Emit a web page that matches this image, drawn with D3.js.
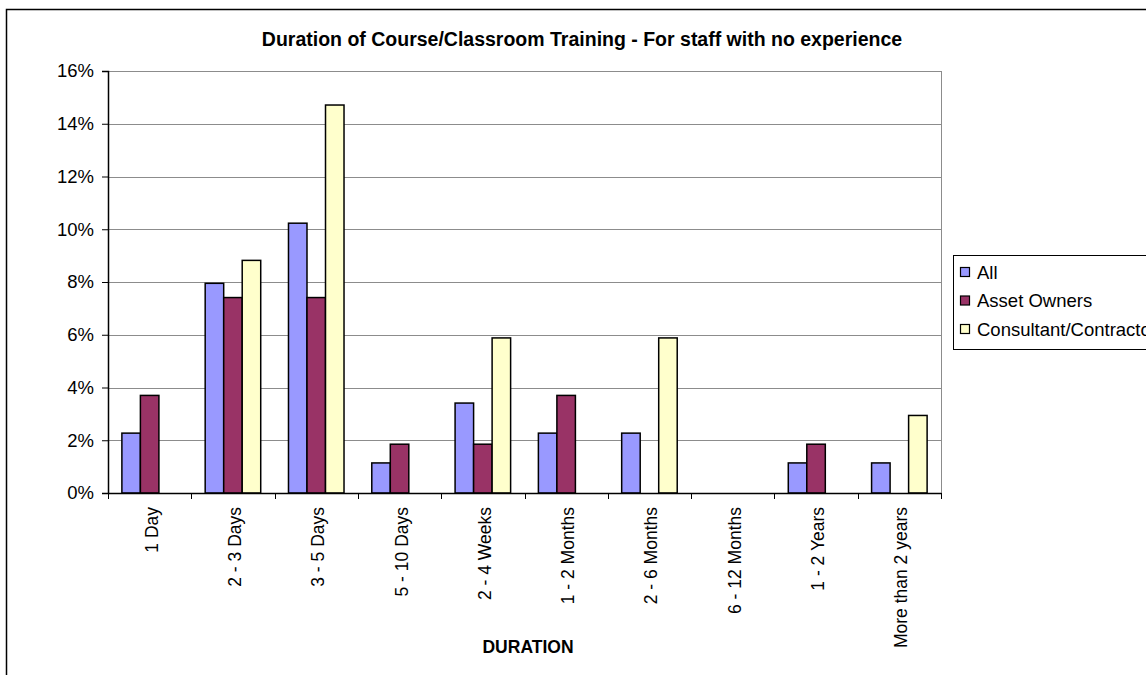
<!DOCTYPE html>
<html>
<head>
<meta charset="utf-8">
<script src="https://cdn.jsdelivr.net/npm/d3@7/dist/d3.min.js"></script>
<style>
  body { margin: 0; background: #fff; }
  svg text { font-family: Arial, "Liberation Sans", sans-serif; fill: #000; }
</style>
</head>
<body>
<div class="chart-container"></div>
<script>
var categories = ["1 Day", "2 - 3 Days", "3 - 5 Days", "5 - 10 Days", "2 - 4 Weeks",
    "1 - 2 Months", "2 - 6 Months", "6 - 12 Months", "1 - 2 Years", "More than 2 years"];
var seriesNames = ["All", "Asset Owners", "Consultant/Contractor"];
var seriesColors = ["#9999ff", "#993366", "#ffffcc"];
var allValues = [2.27, 7.95, 10.23, 1.14, 3.41, 2.27, 2.27, 0, 1.14, 1.14];
var ownerValues = [3.70, 7.41, 7.41, 1.85, 1.85, 3.70, 0, 0, 1.85, 0];
var consultantValues = [0, 8.82, 14.71, 0, 5.88, 0, 5.88, 0, 0, 2.94];
var yTicks = [0, 2, 4, 6, 8, 10, 12, 14, 16];

var width = 1146, height = 675;
var margin = {top: 71, right: 1146 - 941, bottom: 675 - 493, left: 108};
var plotW = width - margin.left - margin.right,
    plotH = height - margin.top - margin.bottom;

var svg = d3.select(".chart-container").append("svg")
    .attr("width", width)
    .attr("height", height);

// outer chart border
svg.append("rect")
    .attr("x", 6.5).attr("y", 9.5)
    .attr("width", 1200).attr("height", 800)
    .attr("fill", "none").attr("stroke", "#000").attr("stroke-width", 1.5);

var g = svg.append("g")
    .attr("transform", "translate(" + margin.left + "," + margin.top + ")");

var x = d3.scaleBand().domain(categories).range([0, plotW]).padding(0);
var x1 = d3.scaleBand().domain(d3.range(3)).range([0, x.bandwidth()])
    .paddingInner(0).paddingOuter(0.75);
var y = d3.scaleLinear().domain([0, 16]).range([plotH, 0]);

// gridlines
g.append("g").selectAll("line")
    .data(yTicks.slice(1))
    .enter().append("line")
    .attr("x1", 0).attr("x2", plotW)
    .attr("y1", function (d) { return Math.round(y(d)) + 0.5; })
    .attr("y2", function (d) { return Math.round(y(d)) + 0.5; })
    .attr("stroke", "#8c8c8c").attr("stroke-width", 1);

// plot area right border
g.append("line")
    .attr("x1", plotW + 0.5).attr("x2", plotW + 0.5)
    .attr("y1", 0).attr("y2", plotH)
    .attr("stroke", "#8c8c8c");

var seriesData = [allValues, ownerValues, consultantValues];
var rows = categories.map(function (c, i) {
    return seriesData.map(function (s, si) { return {cat: c, s: si, v: s[i]}; });
});

g.append("g").selectAll("g")
    .data(rows)
    .enter().append("g")
    .attr("transform", function (d, i) { return "translate(" + x(categories[i]) + ",0)"; })
    .selectAll("rect")
    .data(function (d) { return d.filter(function (b) { return b.v > 0; }); })
    .enter().append("rect")
    .attr("x", function (d) { return x1(d.s); })
    .attr("width", x1.bandwidth())
    .attr("y", function (d) { return y(d.v); })
    .attr("height", function (d) { return plotH - y(d.v); })
    .attr("fill", function (d) { return seriesColors[d.s]; })
    .attr("stroke", "#000").attr("stroke-width", 1.5);

// y axis
var yAxis = g.append("g")
    .call(d3.axisLeft(y).tickValues(yTicks).tickSize(6).tickPadding(8)
        .tickFormat(function (d) { return d + "%"; }));
yAxis.select(".domain").attr("stroke", "#000").attr("stroke-width", 1.5);
yAxis.selectAll(".tick line").attr("stroke", "#000");
yAxis.selectAll("text").style("font-size", "18.5px").attr("fill", "#000");

// x axis
var xAxis = g.append("g")
    .attr("transform", "translate(0," + plotH + ")")
    .call(d3.axisBottom(x).tickSize(0).tickFormat(""));
xAxis.select(".domain").attr("stroke", "#000").attr("stroke-width", 1.5);

g.append("g").selectAll("line")
    .data(d3.range(categories.length + 1))
    .enter().append("line")
    .attr("x1", function (i) { return Math.round(i * x.bandwidth()) + 0.5; })
    .attr("x2", function (i) { return Math.round(i * x.bandwidth()) + 0.5; })
    .attr("y1", plotH).attr("y2", plotH + 6)
    .attr("stroke", "#000");

g.append("g").selectAll("text")
    .data(categories)
    .enter().append("text")
    .attr("transform", function (d) {
        return "translate(" + (x(d) + x.bandwidth() / 2 + 8) + "," + (plotH + 14) + ") rotate(-90)";
    })
    .attr("text-anchor", "end")
    .style("font-size", "17.5px")
    .text(function (d) { return d; });

// title
svg.append("text")
    .attr("x", 582).attr("y", 46)
    .attr("text-anchor", "middle")
    .style("font-size", "19.5px").style("font-weight", "bold")
    .text("Duration of Course/Classroom Training - For staff with no experience");

// axis titles
svg.append("text")
    .attr("x", 528).attr("y", 653)
    .attr("text-anchor", "middle")
    .style("font-size", "17.5px").style("font-weight", "bold")
    .text("DURATION");

svg.append("clipPath").attr("id", "yclip")
    .append("rect").attr("x", 0).attr("y", 219).attr("width", 100).attr("height", 300);

svg.append("text")
    .attr("clip-path", "url(#yclip)")
    .attr("transform", "translate(38,313) rotate(-90)")
    .attr("text-anchor", "start")
    .style("font-size", "16px").style("font-weight", "bold")
    .text("PERCENTAGE");

// legend
var legend = svg.append("g").attr("transform", "translate(953,255)");
legend.append("rect")
    .attr("x", 0.5).attr("y", 0.5).attr("width", 300).attr("height", 94)
    .attr("fill", "#fff").attr("stroke", "#000");

var items = legend.selectAll(".item")
    .data(seriesNames)
    .enter().append("g")
    .attr("class", "item")
    .attr("transform", function (d, i) { return "translate(0," + (17 + i * 28.5) + ")"; });
items.append("rect")
    .attr("x", 7.5).attr("y", -4.5).attr("width", 9).attr("height", 9)
    .attr("fill", function (d, i) { return seriesColors[i]; })
    .attr("stroke", "#000").attr("stroke-width", 1.2);
items.append("text")
    .attr("x", 24).attr("y", 6.5)
    .style("font-size", "18.5px")
    .text(function (d) { return d; });
</script>
</body>
</html>
